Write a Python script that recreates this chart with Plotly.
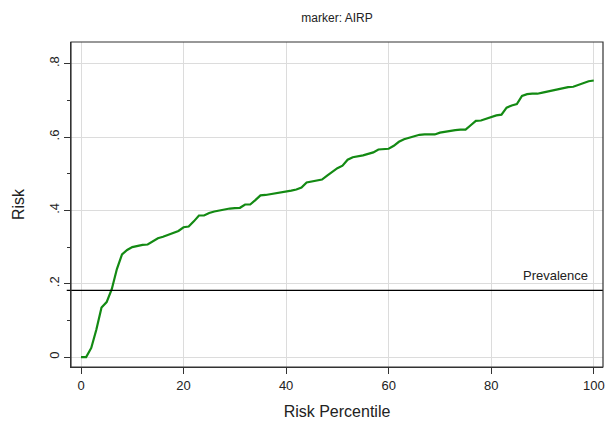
import plotly.graph_objects as go

percentile = list(range(0, 101))
risk = [
    0.000, 0.000, 0.025, 0.075, 0.135, 0.150, 0.185, 0.240, 0.280, 0.292,
    0.300, 0.304, 0.306, 0.307, 0.315, 0.324, 0.328, 0.333, 0.338, 0.344,
    0.354, 0.356, 0.370, 0.386, 0.386, 0.393, 0.397, 0.400, 0.402, 0.405,
    0.406, 0.407, 0.416, 0.416, 0.428, 0.441, 0.442, 0.444, 0.446, 0.448,
    0.450, 0.454, 0.457, 0.462, 0.476, 0.478, 0.480, 0.484, 0.495, 0.506,
    0.515, 0.522, 0.538, 0.545, 0.547, 0.550, 0.554, 0.558, 0.566, 0.567,
    0.568, 0.576, 0.587, 0.594, 0.598, 0.601, 0.606, 0.607, 0.607, 0.607,
    0.612, 0.615, 0.617, 0.619, 0.620, 0.620, 0.632, 0.644, 0.645, 0.650,
    0.654, 0.659, 0.661, 0.680, 0.686, 0.690, 0.712, 0.717, 0.718, 0.718,
    0.721, 0.724, 0.727, 0.731, 0.734, 0.736, 0.737, 0.742, 0.747, 0.752,
    0.754,
]
prevalence = 0.182
x_ticks = [0, 20, 40, 60, 80, 100]
y_tickvals = [0, 0.2, 0.4, 0.6, 0.8]
y_ticktext = ["0", ".2", ".4", ".6", ".8"]

FONT = "Arial, 'Liberation Sans', sans-serif"

fig = go.Figure()
fig.add_trace(go.Scatter(
    x=percentile, y=risk, mode="lines",
    line=dict(color="#138a13", width=2.2),
    showlegend=False, hoverinfo="skip",
))

fig.add_shape(type="line", xref="paper", yref="y", x0=-0.008, x1=1,
              y0=prevalence, y1=prevalence, line=dict(color="black", width=1.4))
fig.add_annotation(x=99.3, y=prevalence + 0.041, xref="x", yref="y",
                   text="Prevalence", showarrow=False, xanchor="right",
                   yanchor="middle", font=dict(size=13, color="#222", family=FONT))
fig.add_shape(type="rect", xref="paper", yref="paper", x0=0, x1=1, y0=0, y1=1,
              line=dict(color="#333333", width=1.2), layer="above")

fig.update_layout(
    width=605, height=427,
    margin=dict(l=71, r=2, t=42, b=60, autoexpand=False),
    paper_bgcolor="white", plot_bgcolor="white",
    font=dict(family=FONT, color="#222"),
    title=dict(text="marker: AIRP", x=0.557, xanchor="center", y=0.958,
               yanchor="middle", font=dict(size=12, color="#222", family=FONT)),
)
fig.update_xaxes(
    range=[-1.95, 101.8], tickvals=x_ticks, automargin=False,
    showgrid=True, gridcolor="#dcdcdc", gridwidth=1,
    zeroline=False, showline=True, linecolor="#333", linewidth=1,
    ticks="outside", ticklen=6, tickcolor="#333",
    tickfont=dict(size=13, family=FONT),
    title=dict(text="Risk Percentile", font=dict(size=16, family=FONT), standoff=14),
)
fig.update_yaxes(
    range=[-0.027, 0.859], tickvals=y_tickvals, ticktext=y_ticktext,
    tickangle=-90, automargin=False,
    showgrid=True, gridcolor="#dcdcdc", gridwidth=1,
    zeroline=False, showline=True, linecolor="#333", linewidth=1,
    ticks="outside", ticklen=6, tickcolor="#333",
    minor=dict(ticks="outside", ticklen=3, dtick=0.1, tick0=0, tickcolor="#333", showgrid=False),
    tickfont=dict(size=13, family=FONT),
    title=dict(text="Risk", font=dict(size=16, family=FONT), standoff=18),
)

fig.write_html("out.html",
               config={"displayModeBar": False},
               post_script="document.body.style.margin='0';document.body.style.overflow='hidden';")
